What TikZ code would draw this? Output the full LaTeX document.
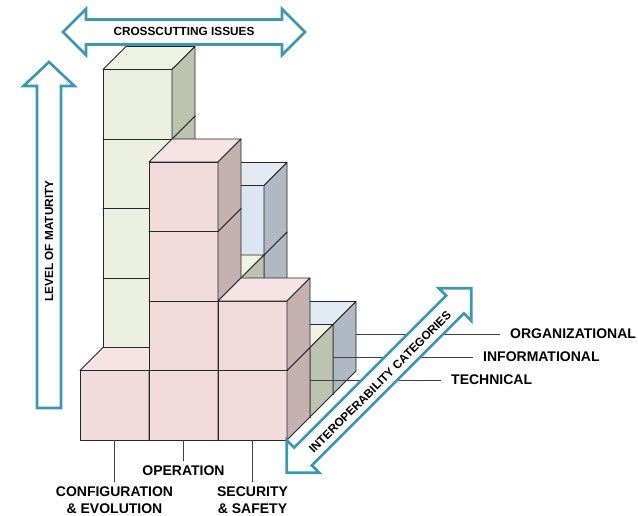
\documentclass[tikz,border=0pt]{standalone}
\usepackage{fontspec}
\setmainfont{Liberation Sans}
\usetikzlibrary{positioning}

\definecolor{techfront}{HTML}{F2DCDB}
\definecolor{techtop}{HTML}{F5E4E3}
\definecolor{techside}{HTML}{C4B1B0}
\definecolor{infofront}{HTML}{EBF1DE}
\definecolor{infotop}{HTML}{EEF3E4}
\definecolor{infoside}{HTML}{BCC3AF}
\definecolor{orgfront}{HTML}{DCE6F2}
\definecolor{orgtop}{HTML}{E1E9F3}
\definecolor{orgside}{HTML}{B0B8C3}
\definecolor{arrowteal}{HTML}{3A99B2}

% one block: column, level, depth, layer
\newcommand\blockcube[4]{%
  \filldraw[face, fill=#4front] (#1,#2,#3) -- ++(1,0,0) -- ++(0,1,0) -- ++(-1,0,0) -- cycle;
  \filldraw[face, fill=#4top] (#1,{#2+1},#3) -- ++(1,0,0) -- ++(0,0,1) -- ++(-1,0,0) -- cycle;
  \filldraw[face, fill=#4side] ({#1+1},#2,#3) -- ++(0,0,1) -- ++(0,1,0) -- ++(0,0,-1) -- cycle;
}
% hollow double arrow, half length #1
\newcommand\dblarrow[1]{%
  \draw[arrowbox] (-#1,0) -- ({-#1+23},-23) -- ({-#1+23},-12.5) -- ({#1-23},-12.5) -- ({#1-23},-23)
    -- (#1,0) -- ({#1-23},23) -- ({#1-23},12.5) -- ({-#1+23},12.5) -- ({-#1+23},23) -- cycle;
}

\begin{document}
\begin{tikzpicture}[x=1pt, y=-1pt,
    face/.style={draw=black!85, line width=0.8pt, line join=round},
    leader/.style={draw=black!75, line width=0.8pt},
    arrowbox/.style={draw=arrowteal, fill=white, line width=2.6pt, line join=miter},
    lbl/.style={font=\bfseries\fontsize{14}{17}\selectfont, inner sep=5pt, align=center},
    layerlbl/.style={lbl, inner xsep=10pt},
    arrowlbl/.style={font=\bfseries\fontsize{11.8}{14}\selectfont, inner sep=0pt}]
    \useasboundingbox (0,0) rectangle (638,516);

    \begin{scope}[shift={(80,440)}, x={(69pt,0pt)}, y={(0pt,69.5pt)}, z={(23pt,23pt)}]
        % organizational
        \foreach \h in {0,1,2} {\blockcube{1}{\h}{2}{org}}
        \blockcube{2}{0}{2}{org}
        % informational
        \foreach \h in {0,...,4} {\blockcube{0}{\h}{1}{info}}
        \foreach \h in {0,1} {\blockcube{1}{\h}{1}{info}}
        \blockcube{2}{0}{1}{info}
        % technical
        \blockcube{0}{0}{0}{tech}
        \foreach \h in {0,...,3} {\blockcube{1}{\h}{0}{tech}}
        \foreach \h in {0,1} {\blockcube{2}{\h}{0}{tech}}

        \coordinate (techpt) at (3,0.53,1);
        \coordinate (infopt) at (3,0.53,2);
        \coordinate (orgpt) at (3,0.53,3);
        \coordinate (configpt) at (0.5,0,0);
        \coordinate (operpt) at (1.5,0,0);
        \coordinate (securpt) at (2.5,0,0);
    \end{scope}

    \node[layerlbl, right=144pt of orgpt] (orgl) {ORGANIZATIONAL};
    \node[layerlbl, right=140pt of infopt] (infol) {INFORMATIONAL};
    \node[layerlbl, right=131pt of techpt] (techl) {TECHNICAL};
    \draw[leader] (orgpt) -- (orgl);
    \draw[leader] (infopt) -- (infol);
    \draw[leader] (techpt) -- (techl);

    \node[lbl, below=41.5pt of configpt] (configl) {CONFIGURATION\\\& EVOLUTION};
    \node[lbl, below=21pt of operpt] (operl) {OPERATION};
    \node[lbl, below=41.5pt of securpt] (securl) {SECURITY\\\& SAFETY};
    \draw[leader] (configpt) -- (configl);
    \draw[leader] (operpt) -- (operl);
    \draw[leader] (securpt) -- (securl);

    % arrows
    \begin{scope}[shift={(184,32)}]
        \dblarrow{121}
    \end{scope}
    \node[arrowlbl] (crossl) at (184,31.5) {CROSSCUTTING ISSUES};
    \draw[arrowbox] (49,62) -- (74.5,86) -- (61,86) -- (61,408) -- (37,408) -- (37,86) -- (23.5,86) -- cycle;
    \node[arrowlbl, rotate=90] (maturl) at (49,241) {LEVEL OF MATURITY};
    \begin{scope}[shift={(379,380.5)}, rotate=45]
        \dblarrow{130.5}
    \end{scope}
    \node[arrowlbl, rotate=45] (interl) at (380,382) {INTEROPERABILITY CATEGORIES};
\end{tikzpicture}
\end{document}
